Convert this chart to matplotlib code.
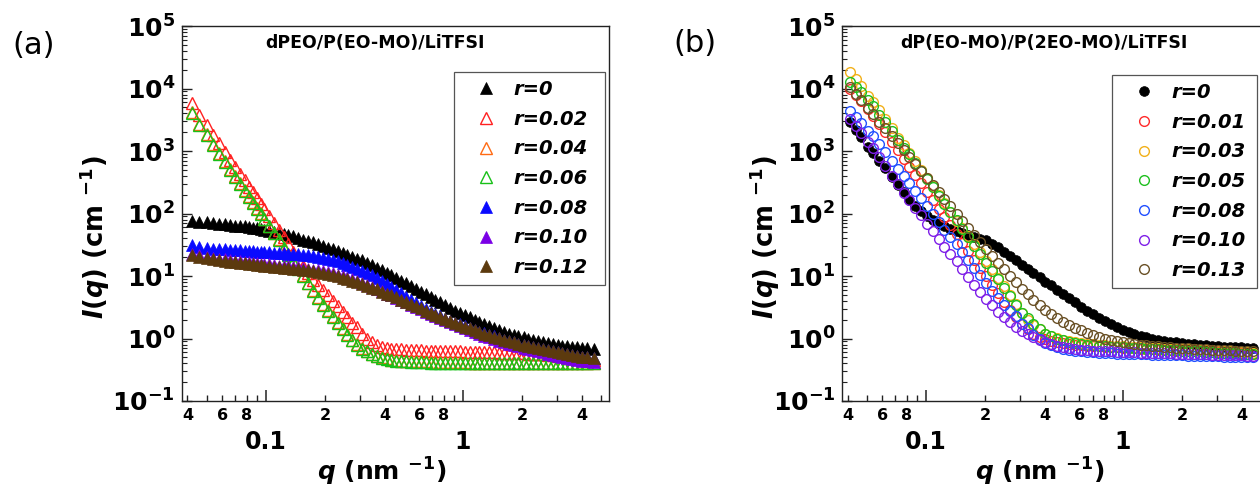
import matplotlib
matplotlib.use("Agg")
import matplotlib.pyplot as plt
import numpy as np
from matplotlib.ticker import FixedLocator, LogLocator, FuncFormatter, NullFormatter

plt.rcParams['font.family'] = 'DejaVu Sans'
plt.rcParams['font.weight'] = 'bold'
plt.rcParams['mathtext.fontset'] = 'custom'
plt.rcParams['mathtext.rm'] = 'DejaVu Sans:bold'
plt.rcParams['mathtext.bf'] = 'DejaVu Sans:bold'
plt.rcParams['mathtext.it'] = 'DejaVu Sans:italic:bold'
plt.rcParams['axes.linewidth'] = 1.0

# ---- panel (a): dPEO/P(EO-MO)/LiTFSI, I(q) in cm^-1 ----
q_a = [0.042, 0.046, 0.050, 0.054, 0.058, 0.062, 0.066, 0.070, 0.074, 0.078,
       0.082, 0.086, 0.090, 0.094, 0.098, 0.104, 0.110, 0.116, 0.123, 0.130,
       0.138, 0.146, 0.155, 0.164, 0.174, 0.184, 0.195, 0.206, 0.218, 0.231,
       0.245, 0.259, 0.274, 0.291, 0.308, 0.326, 0.345, 0.365, 0.387, 0.410,
       0.434, 0.459, 0.486, 0.515, 0.545, 0.577, 0.611, 0.647, 0.685, 0.725,
       0.768, 0.813, 0.861, 0.912, 0.965, 1.02, 1.08, 1.15, 1.21, 1.28,
       1.36, 1.44, 1.52, 1.61, 1.71, 1.81, 1.91, 2.03, 2.15, 2.27,
       2.41, 2.55, 2.70, 2.86, 3.02, 3.20, 3.39, 3.59, 3.80, 4.03,
       4.26, 4.62]

a_r000 = [76, 74, 72, 70, 69, 67, 66, 64, 63, 62, 60, 59, 58, 56, 55,
          53, 51, 49, 47, 45, 43, 41, 38, 36, 34.5,
          32.5, 30.5, 28.5, 27, 25, 23.5, 22, 20.5, 19, 17.8,
          16.3, 14.9, 13.6, 12.3, 11.2, 10.2, 9.3, 8.4, 7.6, 6.9,
          6.2, 5.6, 5.1, 4.6, 4.2, 3.8, 3.4, 3.1, 2.8, 2.6,
          2.4, 2.2, 2.0, 1.86, 1.73, 1.59, 1.48, 1.38, 1.29, 1.20,
          1.14, 1.09, 1.04, 1.0, 0.95, 0.91, 0.87, 0.85, 0.82, 0.79,
          0.77, 0.75, 0.74, 0.72, 0.71, 0.70, 0.68]
a_r002 = [5900, 3800, 2600, 1820, 1320, 970, 720, 556, 431, 339, 269, 219, 174, 144, 118,
          90, 70, 55, 42, 32, 24.5, 19, 14.5, 11.2, 8.7,
          7.2, 5.9, 4.9, 4.0, 3.3, 2.7, 2.2, 1.8, 1.5, 1.2,
          1.0, 0.87, 0.79, 0.74, 0.71, 0.69, 0.68, 0.67, 0.66, 0.66,
          0.65, 0.65, 0.64, 0.64, 0.63, 0.63, 0.63, 0.62, 0.62, 0.62,
          0.61, 0.61, 0.61, 0.60, 0.60, 0.60, 0.60, 0.59, 0.59, 0.59,
          0.58, 0.58, 0.58, 0.57, 0.57, 0.57, 0.56, 0.55, 0.54, 0.53,
          0.52, 0.51, 0.50, 0.49, 0.48, 0.47, 0.46]
a_r004 = [4200, 2700, 1850, 1300, 940, 690, 510, 392, 304, 238, 188, 152, 124, 101, 83,
          64, 49.5, 38.5, 29.3, 22.6, 17.2, 13.4, 10.2, 7.8, 6.0,
          4.6, 3.6, 2.85, 2.25, 1.84, 1.46, 1.18, 0.95, 0.81, 0.70,
          0.63, 0.57, 0.53, 0.50, 0.48, 0.46, 0.45, 0.44, 0.44, 0.43,
          0.43, 0.43, 0.43, 0.42, 0.42, 0.42, 0.42, 0.42, 0.42, 0.42,
          0.42, 0.41, 0.41, 0.41, 0.41, 0.41, 0.41, 0.41, 0.41, 0.41,
          0.41, 0.41, 0.41, 0.41, 0.41, 0.41, 0.41, 0.41, 0.41, 0.41,
          0.41, 0.41, 0.41, 0.41, 0.41, 0.41, 0.41]
a_r006 = [4000, 2600, 1780, 1260, 910, 665, 495, 380, 295, 231, 182, 148, 120, 98, 81,
          62, 48, 37.5, 28.5, 22, 16.7, 13, 9.9, 7.6, 5.8,
          4.5, 3.5, 2.75, 2.2, 1.8, 1.42, 1.15, 0.93, 0.79, 0.69,
          0.62, 0.56, 0.52, 0.49, 0.47, 0.45, 0.44, 0.43, 0.43, 0.42,
          0.42, 0.42, 0.42, 0.41, 0.41, 0.41, 0.41, 0.41, 0.41, 0.41,
          0.41, 0.40, 0.40, 0.40, 0.40, 0.40, 0.40, 0.40, 0.40, 0.40,
          0.40, 0.40, 0.40, 0.40, 0.40, 0.40, 0.40, 0.40, 0.40, 0.40,
          0.40, 0.40, 0.40, 0.40, 0.40, 0.40, 0.40]
a_r008 = [31.5, 29, 28, 27.5, 27, 26.7, 26.3, 26, 25.7, 25.4, 25.1, 24.9, 24.6, 24.4, 24.2,
          23.9, 23.6, 23.3, 23, 22.7, 22.4, 22.1, 21.7, 21.3, 20.9,
          20.4, 19.7, 19.0, 18.2, 17.3, 16.3, 15.2, 14.1, 13.1, 12.2,
          11.2, 10.2, 9.3, 8.4, 7.5, 6.7, 6.0, 5.3, 4.7, 4.2,
          3.7, 3.3, 2.95, 2.7, 2.45, 2.25, 2.08, 1.93, 1.8, 1.68,
          1.57, 1.47, 1.37, 1.29, 1.21, 1.14, 1.08, 1.02, 0.96, 0.92,
          0.87, 0.83, 0.79, 0.76, 0.73, 0.70, 0.67, 0.65, 0.63, 0.61,
          0.59, 0.57, 0.55, 0.53, 0.51, 0.50, 0.48]
a_r010 = [22.9, 21.6, 20.5, 19.5, 18.9, 18.4, 18.0, 17.6, 17.2, 16.9, 16.5, 16.2, 16.0, 15.7, 15.5,
          15.3, 15.0, 14.7, 14.4, 14.2, 13.9, 13.7, 13.4, 13.0, 12.7,
          12.3, 11.9, 11.4, 11.0, 10.5, 9.9, 9.4, 8.9, 8.3, 7.8,
          7.3, 6.7, 6.2, 5.7, 5.2, 4.9, 4.5, 4.1, 3.8, 3.5,
          3.2, 2.95, 2.7, 2.5, 2.3, 2.1, 1.96, 1.81, 1.69, 1.57,
          1.46, 1.36, 1.26, 1.18, 1.11, 1.04, 0.98, 0.92, 0.87, 0.83,
          0.79, 0.75, 0.71, 0.68, 0.65, 0.62, 0.60, 0.57, 0.55, 0.53,
          0.51, 0.49, 0.47, 0.46, 0.44, 0.43, 0.42]
a_r012 = [21.6, 20.4, 19.3, 18.4, 17.8, 17.4, 17.0, 16.6, 16.2, 15.9, 15.6, 15.3, 15.1, 14.8, 14.6,
          14.4, 14.1, 13.9, 13.6, 13.4, 13.1, 12.9, 12.6, 12.3, 12.0,
          11.6, 11.2, 10.8, 10.4, 9.9, 9.4, 8.9, 8.4, 7.9, 7.5,
          7.0, 6.5, 6.1, 5.6, 5.2, 4.9, 4.6, 4.2, 3.9, 3.6,
          3.3, 3.05, 2.8, 2.6, 2.4, 2.2, 2.05, 1.9, 1.78, 1.66,
          1.55, 1.45, 1.35, 1.27, 1.2, 1.13, 1.07, 1.01, 0.955, 0.91,
          0.87, 0.83, 0.79, 0.76, 0.73, 0.70, 0.68, 0.65, 0.63, 0.61,
          0.59, 0.57, 0.55, 0.53, 0.51, 0.50, 0.48]

labels_a = ['r=0', 'r=0.02', 'r=0.04', 'r=0.06', 'r=0.08', 'r=0.10', 'r=0.12']
colors_a = ['#000000', '#ff2020', '#ff6a13', '#18c018', '#0a0aff', '#7a00e6', '#5c3a0e']
filled_a = [True, False, False, False, True, True, True]

# ---- panel (b): dP(EO-MO)/P(2EO-MO)/LiTFSI ----
q_b = [0.041, 0.044, 0.047, 0.051, 0.054, 0.058, 0.062, 0.067, 0.072, 0.077,
       0.082, 0.088, 0.094, 0.101, 0.108, 0.116, 0.124, 0.133, 0.143, 0.153,
       0.164, 0.176, 0.188, 0.202, 0.216, 0.232, 0.248, 0.266, 0.285, 0.306,
       0.328, 0.351, 0.377, 0.404, 0.433, 0.464, 0.497, 0.533, 0.571, 0.612,
       0.656, 0.704, 0.754, 0.809, 0.867, 0.929, 0.996, 1.07, 1.14, 1.23,
       1.31, 1.41, 1.51, 1.62, 1.73, 1.86, 1.99, 2.14, 2.29, 2.45,
       2.63, 2.82, 3.02, 3.24, 3.47, 3.72, 3.99, 4.27, 4.58]

b_r000 = [2900, 2190, 1660, 1180, 935, 705, 535, 390, 290, 220,
          166, 132, 110, 91, 78, 68, 62, 56, 52.5, 49,
          45.7, 42.7, 39.8, 37, 33, 29, 24.5, 21, 17.8, 15.1,
          12.9, 11.2, 9.5, 8.1, 7.1, 6.0, 5.1, 4.4, 3.8, 3.2,
          2.8, 2.45, 2.15, 1.9, 1.7, 1.51, 1.38, 1.26, 1.17, 1.10,
          1.05, 1.0, 0.955, 0.92, 0.89, 0.87, 0.85, 0.83, 0.81, 0.79,
          0.78, 0.77, 0.76, 0.74, 0.73, 0.72, 0.72, 0.71, 0.70]
b_r001 = [10000, 8000, 6300, 4700, 3650, 2660, 1980, 1400, 1020, 750,
          560, 415, 306, 225, 165, 120, 88, 65, 46.5, 34.3,
          25.2, 18.1, 13.6, 10.0, 7.3, 5.3, 3.9, 2.9, 2.2, 1.71,
          1.40, 1.2, 1.05, 0.98, 0.92, 0.87, 0.84, 0.82, 0.80, 0.78,
          0.77, 0.76, 0.75, 0.74, 0.73, 0.72, 0.71, 0.70, 0.70, 0.69,
          0.68, 0.67, 0.66, 0.66, 0.65, 0.64, 0.63, 0.62, 0.62, 0.62,
          0.61, 0.60, 0.60, 0.59, 0.59, 0.59, 0.58, 0.57, 0.57]
b_r003 = [18600, 14300, 10800, 7700, 6000, 4450, 3260, 2300, 1620, 1230,
          930, 680, 504, 370, 271, 196, 145, 106, 77, 58,
          43.5, 32.5, 24, 17.5, 13, 9.4, 7.0, 5.0, 3.6, 2.6,
          1.98, 1.62, 1.42, 1.19, 1.08, 1.01, 0.95, 0.90, 0.87, 0.85,
          0.83, 0.81, 0.80, 0.78, 0.77, 0.76, 0.75, 0.74, 0.74, 0.72,
          0.71, 0.70, 0.70, 0.69, 0.69, 0.69, 0.68, 0.67, 0.67, 0.66,
          0.66, 0.65, 0.64, 0.63, 0.62, 0.62, 0.61, 0.60, 0.59]
b_r005 = [12800, 10500, 8900, 6500, 5200, 3830, 2900, 2080, 1500, 1130,
          880, 647, 485, 360, 268, 190, 140, 104, 78, 57,
          41.5, 30.5, 22.5, 16.2, 12.0, 8.8, 6.5, 4.8, 3.5, 2.6,
          2.1, 1.69, 1.42, 1.18, 1.08, 0.99, 0.93, 0.88, 0.85, 0.82,
          0.80, 0.78, 0.76, 0.75, 0.74, 0.73, 0.72, 0.71, 0.70, 0.70,
          0.69, 0.68, 0.67, 0.66, 0.66, 0.65, 0.64, 0.63, 0.62, 0.62,
          0.61, 0.60, 0.59, 0.59, 0.59, 0.58, 0.57, 0.57, 0.56]
b_r008 = [4300, 3530, 2850, 2100, 1730, 1280, 970, 700, 520, 397,
          306, 231, 175, 130, 98, 72.5, 55, 42, 32.5, 24.2,
          18.1, 13.4, 10.2, 7.7, 5.85, 4.45, 3.5, 2.77, 2.27, 1.73,
          1.45, 1.13, 1.0, 0.85, 0.78, 0.72, 0.68, 0.65, 0.63, 0.62,
          0.61, 0.60, 0.59, 0.59, 0.58, 0.57, 0.57, 0.56, 0.56, 0.56,
          0.56, 0.55, 0.55, 0.54, 0.54, 0.54, 0.54, 0.53, 0.53, 0.52,
          0.52, 0.52, 0.52, 0.51, 0.51, 0.50, 0.50, 0.50, 0.50]
b_r010 = [3260, 2500, 1960, 1400, 1120, 800, 580, 400, 294, 215,
          162, 122, 93, 69, 52, 39, 29.5, 22.5, 17.3, 13,
          9.8, 7.3, 5.6, 4.3, 3.4, 2.67, 2.2, 1.84, 1.55, 1.33,
          1.19, 1.05, 0.95, 0.87, 0.81, 0.76, 0.72, 0.70, 0.68, 0.66,
          0.65, 0.64, 0.63, 0.62, 0.62, 0.61, 0.61, 0.60, 0.60, 0.59,
          0.59, 0.59, 0.59, 0.58, 0.58, 0.57, 0.57, 0.56, 0.56, 0.56,
          0.56, 0.55, 0.55, 0.54, 0.54, 0.54, 0.54, 0.53, 0.53]
b_r013 = [10500, 8200, 6500, 4800, 3880, 2960, 2330, 1750, 1330, 1020,
          800, 615, 480, 370, 290, 220, 170, 130, 100, 77,
          59, 44.5, 34.8, 26.8, 21.1, 16.4, 13, 10.1, 7.9, 6.2,
          5.1, 4.2, 3.5, 2.9, 2.5, 2.1, 1.86, 1.64, 1.47, 1.35,
          1.22, 1.13, 1.05, 0.99, 0.94, 0.90, 0.87, 0.84, 0.82, 0.80,
          0.78, 0.77, 0.75, 0.73, 0.72, 0.71, 0.70, 0.70, 0.69, 0.68,
          0.67, 0.66, 0.66, 0.65, 0.65, 0.64, 0.63, 0.63, 0.62]

labels_b = ['r=0', 'r=0.01', 'r=0.03', 'r=0.05', 'r=0.08', 'r=0.10', 'r=0.13']
colors_b = ['#000000', '#ff2a2a', '#f2b01a', '#1fbf1f', '#2250ff', '#7f20e8', '#6a5126']
filled_b = [True, False, False, False, False, False, False]


def minor_label(v, pos):
    m = v / 10 ** np.floor(np.log10(v) + 1e-9)
    d = int(round(m))
    return str(d) if d in (2, 4, 6, 8) else ''


def style_axes(ax):
    ax.set_xscale('log')
    ax.set_yscale('log')
    ax.set_xlim(0.0375, 5.51)
    ax.set_ylim(0.1, 1e5)
    ax.xaxis.set_major_locator(FixedLocator([0.1, 1]))
    ax.xaxis.set_major_formatter(FuncFormatter(lambda v, p: '0.1' if v < 0.5 else '1'))
    ax.xaxis.set_minor_locator(LogLocator(base=10, subs=np.arange(2, 10), numticks=30))
    ax.xaxis.set_minor_formatter(FuncFormatter(minor_label))
    ax.yaxis.set_major_locator(LogLocator(base=10, numticks=10))
    ax.yaxis.set_major_formatter(FuncFormatter(lambda v, p: r'$10^{%d}$' % round(np.log10(v))))
    ax.yaxis.set_minor_locator(LogLocator(base=10, subs=np.arange(2, 10), numticks=30))
    ax.yaxis.set_minor_formatter(NullFormatter())
    ax.tick_params(which='both', direction='in', top=False, right=False, color='#222222')
    ax.tick_params(axis='x', which='major', length=8, width=1.1, pad=21, labelsize=17)
    ax.tick_params(axis='x', which='minor', length=4.5, width=1, pad=5, labelsize=11.5)
    ax.tick_params(axis='y', which='major', length=7, width=1, pad=5, labelsize=18)
    ax.tick_params(axis='y', which='minor', length=3.5, width=0.8)
    for s in ax.spines.values():
        s.set_color('#222222')


def add_legend(ax, box):
    leg = ax.legend(loc='upper left', bbox_to_anchor=box, mode='expand', borderaxespad=0,
                    borderpad=0.4, handlelength=2.5, handletextpad=0.15, labelspacing=0.55,
                    prop=dict(weight='bold', style='italic', size=14), fancybox=False,
                    edgecolor='#555555', framealpha=1, numpoints=1)
    leg.get_frame().set_linewidth(0.9)


fig = plt.figure(figsize=(12.6, 4.91), dpi=100)
ax1 = fig.add_axes([0.1444, 0.1833, 0.3389, 0.7637])
ax2 = fig.add_axes([0.6683, 0.1833, 0.3389, 0.7637])

series_a = [a_r000, a_r002, a_r004, a_r006, a_r008, a_r010, a_r012]
for vals, lab, col, fill in zip(series_a, labels_a, colors_a, filled_a):
    ax1.plot(q_a, vals, linestyle='none', marker='^', ms=8,
             mfc=col if fill else 'none', mec=col, mew=0.5 if fill else 1.0, label=lab)

series_b = [b_r000, b_r001, b_r003, b_r005, b_r008, b_r010, b_r013]
for vals, lab, col, fill in zip(series_b, labels_b, colors_b, filled_b):
    ax2.plot(q_b, vals, linestyle='none', marker='o', ms=7,
             mfc=col if fill else 'none', mec=col, mew=0.5 if fill else 1.0, label=lab)

for ax in (ax1, ax2):
    style_axes(ax)

add_legend(ax1, (0.637, 0.315, 0.354, 0.562))
add_legend(ax2, (0.632, 0.317, 0.340, 0.552))

ax1.text(0.452, 0.956, 'dPEO/P(EO-MO)/LiTFSI', transform=ax1.transAxes,
         ha='center', va='center', fontsize=12.5)
ax2.text(0.473, 0.956, 'dP(EO-MO)/P(2EO-MO)/LiTFSI', transform=ax2.transAxes,
         ha='center', va='center', fontsize=12.5)

xlab = r'$\mathit{q}$ (nm $^{-1}$)'
ylab = r'$\mathit{I(q)}$ (cm $^{-1}$)'
ax1.text(0.468, -0.19, xlab, transform=ax1.transAxes, ha='center', va='center', fontsize=18)
ax2.text(0.464, -0.19, xlab, transform=ax2.transAxes, ha='center', va='center', fontsize=18)
ax1.text(-0.205, 0.437, ylab, transform=ax1.transAxes, rotation=90,
         ha='center', va='center', fontsize=18.5)
ax2.text(-0.180, 0.437, ylab, transform=ax2.transAxes, rotation=90,
         ha='center', va='center', fontsize=18.5)

fig.text(34 / 1260, 1 - 45 / 491, '(a)', fontsize=22, fontweight='normal', ha='center', va='center')
fig.text(695 / 1260, 1 - 44 / 491, '(b)', fontsize=22, fontweight='normal', ha='center', va='center')

fig.savefig('out.png', dpi=100)
